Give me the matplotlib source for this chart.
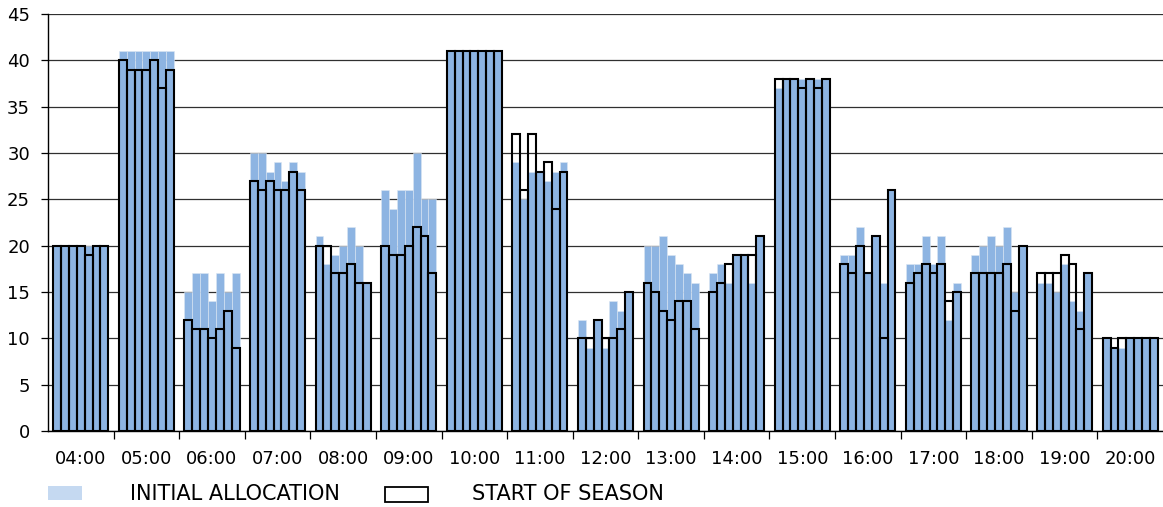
import numpy as np
import matplotlib
matplotlib.use("Agg")
from matplotlib import pyplot as plt
from matplotlib.patches import Rectangle

plt.rcParams['font.family'] = ['Liberation Sans Narrow', 'DejaVu Sans']

hours = ['04:00', '05:00', '06:00', '07:00', '08:00', '09:00', '10:00', '11:00', '12:00',
         '13:00', '14:00', '15:00', '16:00', '17:00', '18:00', '19:00', '20:00']

# 7 bars per hour
initial = [
    [20, 20, 20, 20, 20, 20, 20],
    [41, 41, 41, 41, 41, 41, 41],
    [15, 17, 17, 14, 17, 15, 17],
    [30, 30, 28, 29, 27, 29, 28],
    [21, 18, 19, 20, 22, 20, 16],
    [26, 24, 26, 26, 30, 25, 25],
    [41, 41, 41, 41, 41, 41, 41],
    [29, 25, 28, 28, 27, 28, 29],
    [12, 9, 12, 9, 14, 13, 15],
    [20, 20, 21, 19, 18, 17, 16],
    [17, 18, 16, 19, 19, 16, 21],
    [37, 38, 38, 38, 38, 38, 38],
    [19, 19, 22, 17, 21, 16, 26],
    [18, 18, 21, 18, 21, 12, 16],
    [19, 20, 21, 20, 22, 15, 20],
    [16, 16, 15, 18, 14, 13, 17],
    [10, 9, 9, 10, 10, 10, 10],
]
start_season = [
    [20, 20, 20, 20, 19, 20, 20],
    [40, 39, 39, 39, 40, 37, 39],
    [12, 11, 11, 10, 11, 13, 9],
    [27, 26, 27, 26, 26, 28, 26],
    [20, 20, 17, 17, 18, 16, 16],
    [20, 19, 19, 20, 22, 21, 17],
    [41, 41, 41, 41, 41, 41, 41],
    [32, 26, 32, 28, 29, 24, 28],
    [10, 10, 12, 10, 10, 11, 15],
    [16, 15, 13, 12, 14, 14, 11],
    [15, 16, 18, 19, 19, 19, 21],
    [38, 38, 38, 37, 38, 37, 38],
    [18, 17, 20, 17, 21, 10, 26],
    [16, 17, 18, 17, 18, 14, 15],
    [17, 17, 17, 17, 18, 13, 20],
    [17, 17, 17, 19, 18, 11, 17],
    [10, 9, 10, 10, 10, 10, 10],
]

bar_blue = '#8DB4E2'
legend_blue = '#C5D9F1'
w = 0.12

fig = plt.figure(figsize=(11.63, 5.07), dpi=100)
ax = fig.add_axes([48 / 1163, 76 / 507, 1 - 48 / 1163, 417 / 507])

x = []
ini = []
sos = []
for i in range(len(hours)):
    for j in range(7):
        x.append(i + (j - 3) * w)
        ini.append(initial[i][j])
        sos.append(start_season[i][j])

ax.bar(x, ini, width=w, color=bar_blue, edgecolor='#DCE6F2', linewidth=0.4, zorder=2)
ax.bar(x, sos, width=w, facecolor='none', edgecolor='black', linewidth=1.5, zorder=3)

ax.set_xlim(-0.5, len(hours) - 0.5)
ax.set_ylim(0, 45)
ax.set_yticks(range(0, 46, 5))
ax.yaxis.grid(True, color='#303030', linewidth=0.9)
ax.set_axisbelow(True)

ax.set_xticks(range(len(hours)))
ax.set_xticklabels(hours, fontsize=13)
ax.set_xticks(np.arange(0.5, len(hours) - 0.5, 1), minor=True)
ax.tick_params(axis='x', which='major', length=0, pad=14)
ax.tick_params(axis='x', which='minor', length=6, width=0.9, direction='out')
ax.tick_params(axis='y', length=5, width=0.9, labelsize=13, pad=8)

for s in ['top', 'right']:
    ax.spines[s].set_visible(False)
ax.spines['left'].set_linewidth(1.0)
ax.spines['bottom'].set_linewidth(1.0)

# legend drawn by hand under the axis
fig.patches.append(Rectangle((48 / 1163, 7 / 507), 34 / 1163, 14 / 507,
                             transform=fig.transFigure, facecolor=legend_blue, edgecolor='none'))
fig.text(130 / 1163, 13 / 507, 'INITIAL ALLOCATION', fontsize=15, va='center', ha='left')
fig.patches.append(Rectangle((385 / 1163, 5 / 507), 43 / 1163, 15 / 507,
                             transform=fig.transFigure, facecolor='white', edgecolor='black', linewidth=1.3))
fig.text(472 / 1163, 13 / 507, 'START OF SEASON', fontsize=15, va='center', ha='left')

plt.savefig('out.png', dpi=100)
